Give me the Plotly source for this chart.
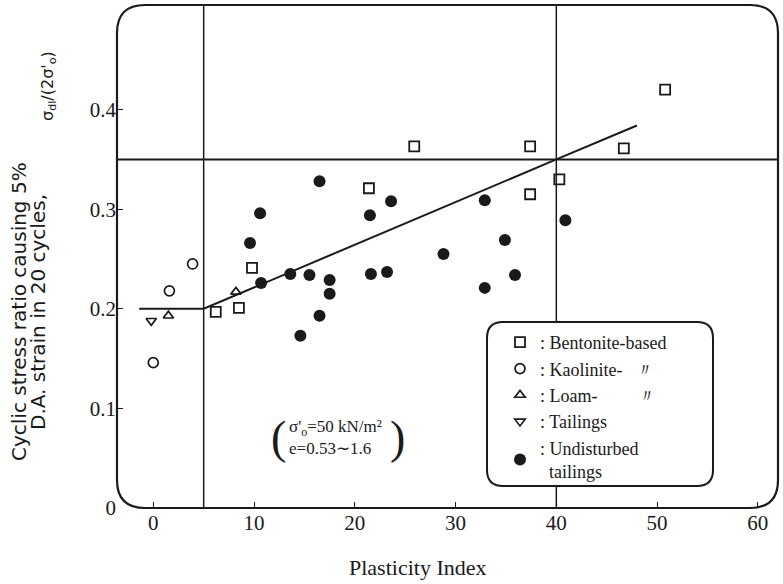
import plotly.graph_objects as go

# data
bent_x = [6.2, 8.5, 9.8, 21.4, 25.9, 37.4, 37.4, 40.3, 46.7, 50.8]
bent_y = [0.197, 0.201, 0.241, 0.321, 0.363, 0.363, 0.315, 0.330, 0.361, 0.420]

kaol_x = [0.0, 1.6, 3.9]
kaol_y = [0.146, 0.218, 0.245]

loam_x = [1.5, 8.2]
loam_y = [0.193, 0.217]

tail_x = [-0.2]
tail_y = [0.188]

und_x = [10.6, 9.6, 10.7, 13.6, 15.5, 16.5, 17.5, 17.5, 16.5, 14.6,
         21.5, 21.6, 23.2, 23.6, 32.9, 28.8, 34.9, 35.9, 32.9, 40.9]
und_y = [0.296, 0.266, 0.226, 0.235, 0.234, 0.328, 0.229, 0.215, 0.193, 0.173,
         0.294, 0.235, 0.237, 0.308, 0.309, 0.255, 0.269, 0.234, 0.221, 0.289]

trend_x = [-1.4, 5, 40, 48]
trend_y = [0.2, 0.2, 0.35, 0.384]

ref_h = 0.35
ref_v = [5, 40]

x_ticks = [0, 10, 20, 30, 40, 50, 60]
y_ticks = [0, 0.1, 0.2, 0.3, 0.4]
y_ticktext = ['0', '0.1', '0.2', '0.3', '0.4']

W, H = 783, 584
L, R, T, B = 117, 778, 5, 508
FONT = 'Liberation Serif'
SANS = 'DejaVu Sans'
INK = '#1a1a1a'


def px(x):
    return (x - L) / (R - L)


def py(y):
    return (B - y) / (B - T)


def rounded(x0, y0, x1, y1, r):
    # rounded rectangle path in paper coords from a pixel box
    rx = r / (R - L)
    ry = r / (B - T)
    a, b, c, d = px(x0), py(y1), px(x1), py(y0)
    return (f'M {a+rx},{b} L {c-rx},{b} Q {c},{b} {c},{b+ry} '
            f'L {c},{d-ry} Q {c},{d} {c-rx},{d} L {a+rx},{d} '
            f'Q {a},{d} {a},{d-ry} L {a},{b+ry} Q {a},{b} {a+rx},{b} Z')


def note(text, x, y, size, angle=0, family=FONT, **kw):
    d = dict(text=text, x=px(x), y=py(y), xref='paper', yref='paper',
             showarrow=False, xanchor='center', yanchor='middle',
             textangle=angle, font=dict(size=size, family=family))
    d.update(kw)
    return d


fig = go.Figure()

fig.add_trace(go.Scatter(x=trend_x, y=trend_y, mode='lines',
                         line=dict(color=INK, width=2), showlegend=False))

fig.add_trace(go.Scatter(x=bent_x, y=bent_y, mode='markers', name=': Bentonite-based',
                         marker=dict(symbol='square-open', color=INK, size=10,
                                     line=dict(width=1.8))))
fig.add_trace(go.Scatter(x=kaol_x, y=kaol_y, mode='markers', name=': Kaolinite-   〃',
                         marker=dict(symbol='circle-open', color=INK, size=10,
                                     line=dict(width=1.7))))
fig.add_trace(go.Scatter(x=loam_x, y=loam_y, mode='markers', name=': Loam-         〃',
                         marker=dict(symbol='triangle-up-open', color=INK, size=9,
                                     line=dict(width=1.7))))
fig.add_trace(go.Scatter(x=tail_x, y=tail_y, mode='markers', name=': Tailings',
                         marker=dict(symbol='triangle-down-open', color=INK, size=9,
                                     line=dict(width=1.7))))
fig.add_trace(go.Scatter(x=und_x, y=und_y, mode='markers', name=': Undisturbed<br>  tailings',
                         marker=dict(symbol='circle', color=INK, size=12)))

shapes = [
    dict(type='line', xref='paper', yref='y', x0=0, x1=1, y0=ref_h, y1=ref_h,
         line=dict(color=INK, width=2)),
]
for v in ref_v:
    shapes.append(dict(type='line', xref='x', yref='paper', x0=v, x1=v, y0=0, y1=1,
                       line=dict(color=INK, width=1.5)))
# outer frame
shapes.append(dict(type='path', xref='paper', yref='paper', path=rounded(L, T, R, B, 28),
                   line=dict(color=INK, width=2.2)))
# legend box
shapes.append(dict(type='path', xref='paper', yref='paper', path=rounded(487, 322, 713, 486, 16),
                   line=dict(color=INK, width=2), fillcolor='white', layer='above'))

ann = [
    note('Plasticity Index', 417, 567, 22),
    note('Cyclic stress ratio causing 5%', 19, 312, 20, -90, SANS),
    note('D.A. strain in 20 cycles,', 38, 312, 20, -90, SANS),
    note("σ<sub>dl</sub>/(2σ'<sub>o</sub>)", 49, 86, 16, -90, SANS),
    note("σ'<sub>o</sub>=50 kN/m²<br>e=0.53∼1.6", 287, 437, 17, xanchor='left', align='left'),
    note('(', 278, 437, 46),
    note(')', 397, 437, 46),
]

fig.update_layout(
    width=W, height=H,
    margin=dict(l=L, r=W - R, t=T, b=H - B),
    paper_bgcolor='white', plot_bgcolor='white',
    font=dict(family=FONT, color=INK, size=16),
    shapes=shapes, annotations=ann,
    legend=dict(x=px(500), y=py(324), xanchor='left', yanchor='top',
                bgcolor='rgba(0,0,0,0)', font=dict(size=18, family=FONT),
                tracegroupgap=0, itemwidth=30),
    xaxis=dict(range=[-3.6, 62], tickvals=x_ticks, ticks='inside', ticklen=6,
               tickcolor=INK, showgrid=False, zeroline=False, showline=False,
               tickfont=dict(size=21)),
    yaxis=dict(range=[0, 0.505], tickvals=y_ticks, ticktext=y_ticktext, ticks='inside',
               ticklen=6, tickcolor=INK, showgrid=False, zeroline=False, showline=False,
               tickfont=dict(size=21)),
)

fig.write_html('out.html', config={'displayModeBar': False},
               post_script="document.body.style.margin='0';")
